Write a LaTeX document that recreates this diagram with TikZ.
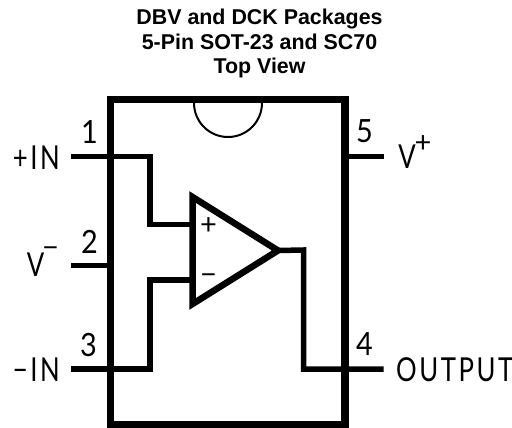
\documentclass[tikz,border=0pt]{standalone}
\usepackage{fontspec}
\setmainfont{Liberation Sans}
\newfontfamily\pinfont[LetterSpace=10]{Lato}
\newfontfamily\symfont{Lato}
\tikzset{
  wire/.style={line width=5.5pt},
  outline/.style={line width=7.5pt},
  pinlabel/.style={font=\pinfont\fontsize{33}{33}\selectfont, inner sep=0pt, xscale=0.78},
  pinnum/.style={font=\symfont\fontsize{32}{32}\selectfont, inner sep=0pt, xscale=0.9},
  pinsym/.style={font=\symfont\fontsize{29}{29}\selectfont, inner sep=0pt}
}

\begin{document}
\begin{tikzpicture}[x=1pt,y=-1pt]
    \useasboundingbox (0,0) rectangle (512,428);

    \node[font=\bfseries\fontsize{21.4}{24.5}\selectfont, align=center] (title) at (259.5,43.5) {DBV and DCK Packages\\5-Pin SOT-23 and SC70\\Top View};

    \coordinate (tl) at (110.5,99.3);
    \coordinate (tr) at (345,99.3);
    \coordinate (br) at (345,425);
    \coordinate (bl) at (110.5,425);
    \draw[outline] (tl) -- (tr) -- (br) -- (bl) -- cycle;

    \coordinate (notchl) at (194,103);
    \coordinate (notchr) at (262,103);
    \draw[line width=2pt] (notchl) arc[start angle=180, end angle=360, x radius=34, y radius=-34];

    \coordinate (ampa) at (192.5,197);
    \coordinate (ampb) at (278,250.5);
    \coordinate (ampc) at (192.5,304);
    \draw[line width=6.5pt] (ampa) -- (ampb) -- (ampc) -- cycle;

    \coordinate (pin1) at (71,156.7);
    \coordinate (pin2) at (71,265.7);
    \coordinate (pin3) at (71,369);
    \coordinate (pin4) at (383.7,369);
    \coordinate (pin5) at (383.7,156.7);
    \coordinate (box2) at (110.5,265.7);
    \coordinate (box5) at (345,156.7);
    \coordinate (inp) at (192.5,224.7);
    \coordinate (inn) at (192.5,280);

    \draw[wire] (pin1) -| (150,224.7) -- (inp);
    \draw[wire] (pin2) -- (box2);
    \draw[wire] (pin3) -| (150,280) -- (inn);
    \draw[wire] (pin4) -| (303.7,250) -- (ampb);
    \draw[wire] (pin5) -- (box5);

    \node[pinlabel, anchor=east] (lin) at (60,157.5) {+IN};
    \node[pinlabel] (lvm) at (35.5,265) {V};
    \node[pinlabel, anchor=east] (lmi) at (60,369.5) {\char"2212 IN};
    \node[pinlabel] (lvp) at (407,157) {V};
    \node[pinlabel, anchor=west] (lout) at (396,369.5) {OUTPUT};
    \node[pinsym] (smn) at (50.5,252) {\char"2212};
    \node[pinsym] (spl) at (423,144) {+};

    \node[pinnum] (n1) at (89.5,132) {1};
    \node[pinnum] (n2) at (89.5,241.5) {2};
    \node[pinnum] (n3) at (88.5,345) {3};
    \node[pinnum] (n4) at (364.5,344.5) {4};
    \node[pinnum] (n5) at (364.5,131.5) {5};

    \node[pinsym] (ampp) at (208.5,226.5) {+};
    \node[pinsym] (ampm) at (208.5,279) {\char"2212};
\end{tikzpicture}
\end{document}
